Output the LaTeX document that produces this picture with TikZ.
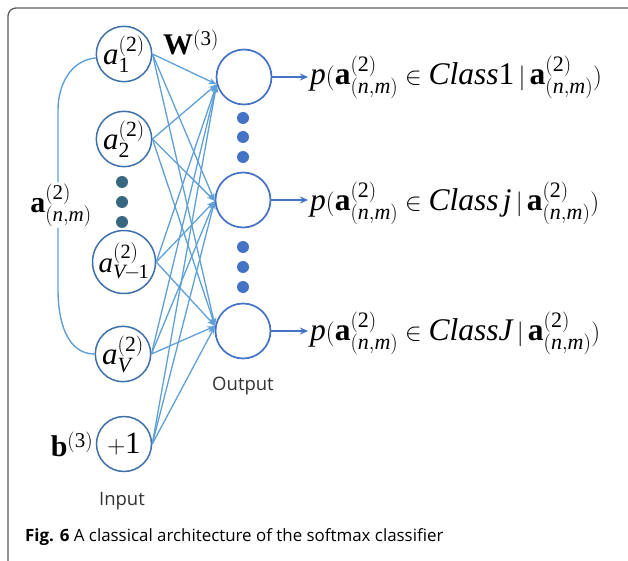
\documentclass[tikz,border=0pt]{standalone}
\usepackage{fontspec}
\setmainfont{Liberation Serif}
\newfontfamily\capfont{Open Sans}
\usetikzlibrary{arrows.meta}
\definecolor{incircle}{RGB}{62,112,170}
\definecolor{outcircle}{RGB}{68,114,196}
\definecolor{edgeblue}{RGB}{96,160,216}
\definecolor{indot}{RGB}{56,104,128}
\definecolor{outdot}{RGB}{68,114,196}
\definecolor{framegray}{RGB}{95,95,95}
\tikzset{
  innode/.style={circle,draw=incircle,line width=1.5pt,minimum size=55pt,inner sep=0pt,font=\fontsize{31}{31}\selectfont},
  outnode/.style={circle,draw=outcircle,line width=1.7pt,minimum size=55pt,inner sep=0pt},
  edge/.style={draw=edgeblue,line width=1.3pt,-{Stealth[length=8pt,width=6pt]}},
  outarrow/.style={draw=outcircle,line width=1.6pt,-{Stealth[length=8pt,width=7pt]}},
  bracket/.style={draw=edgeblue,line width=1.4pt},
  probtext/.style={anchor=west,inner sep=2pt,font=\fontsize{31.5}{31.5}\selectfont},
  sanslabel/.style={font=\capfont\fontsize{18.5}{18.5}\selectfont,text=black!80},
  dotin/.style={circle,fill=indot,inner sep=0pt,minimum size=12pt},
  dotout/.style={circle,fill=outdot,inner sep=0pt,minimum size=12pt}
}
\newcommand{\two}{\mathrm{(2)}}
\newcommand{\anm}{\mathbf{a}^{\two}_{\mathrm{(}\mathit{n},\mathit{m}\mathrm{)}}}
\begin{document}
\begin{tikzpicture}[x=1pt,y=-1pt]
\useasboundingbox (0,0) rectangle (628,561);
\fill[white] (0,0) rectangle (628,561);
% frame
\draw[framegray,line width=1.3pt,rounded corners=8pt] (8,561) -- (8,8) -- (628,8);
% input nodes
\node[innode] (a1) at (124,54) {$\mathit{a}^{\two}_{\mathrm{1}}$};
\node[innode] (a2) at (124,139) {$\mathit{a}^{\two}_{\mathrm{2}}$};
\node[innode,font=\fontsize{29}{29}\selectfont] (aV1) at (124,262) {$\mathit{a}^{\two}_{\mathit{V}\hspace{-1.5pt}-\hspace{-1.5pt}\mathrm{1}}$};
\node[innode] (aV) at (123,354) {$\mathit{a}^{\two}_{\mathit{V}}$};
\node[innode] (b) at (124,444) {$+\mathrm{1}$};
% input dots
\node[dotin] (di1) at (122,182) {};
\node[dotin] (di2) at (122,202) {};
\node[dotin] (di3) at (122,222) {};
% output nodes
\node[outnode] (o1) at (244,77) {};
\node[outnode] (o2) at (243,200) {};
\node[outnode] (o3) at (243,331) {};
% output dots
\node[dotout] (do1) at (243,118) {};
\node[dotout] (do2) at (243,137) {};
\node[dotout] (do3) at (243,157) {};
\node[dotout] (do4) at (243,247) {};
\node[dotout] (do5) at (243,267) {};
\node[dotout] (do6) at (243,287) {};
% edges
\foreach \i in {a1,a2,aV1,aV,b}{
  \draw[edge] (\i.east) -- (o1.195);
  \draw[edge] (\i.east) -- (o2.182);
  \draw[edge] (\i.east) -- (o3.170);
}
% probability texts
\node[probtext] (p1) at (308,77) {$\mathit{p}\mathrm{(}\anm \in \mathit{Class}\mathrm{1}\,|\,\anm\mathrm{)}$};
\node[probtext] (p2) at (308,203) {$\mathit{p}\mathrm{(}\anm \in \mathit{Class\,j}\,|\,\anm\mathrm{)}$};
\node[probtext] (p3) at (308,333) {$\mathit{p}\mathrm{(}\anm \in \mathit{ClassJ}\,|\,\anm\mathrm{)}$};
\draw[outarrow] (o1.east) -- (o1.east -| p1.west);
\draw[outarrow] (o2.east) -- (o2.east -| p2.west);
\draw[outarrow] (o3.east) -- (o3.east -| p3.west);
% labels
\node[font=\fontsize{30}{30}\selectfont] (W) at (191,42) {$\mathbf{W}^{\mathrm{(3)}}$};
\node[font=\fontsize{30}{30}\selectfont,fill=white,inner sep=1pt] (alab) at (61,205) {$\anm$};
\node[font=\fontsize{30}{30}\selectfont] (blab) at (72,444) {$\mathbf{b}^{\mathrm{(3)}}$};
% bracket
\coordinate (bt) at (58,110);
\coordinate (bb) at (58,290);
\draw[bracket] (a1.188) to[out=185,in=90] (bt) -- (alab.north -| bt);
\draw[bracket] (alab.south -| bb) -- (bb) to[out=-90,in=180] (aV.west);
% sans labels
\node[sanslabel] (outlab) at (243,386) {Output};
\node[sanslabel] (inlab) at (122,501) {Input};
\node[anchor=base west,font=\capfont\fontsize{16.9}{16.9}\selectfont,inner sep=0pt] (cap) at (25,541) {\textbf{Fig. 6} A classical architecture of the softmax classifier};
\end{tikzpicture}
\end{document}
